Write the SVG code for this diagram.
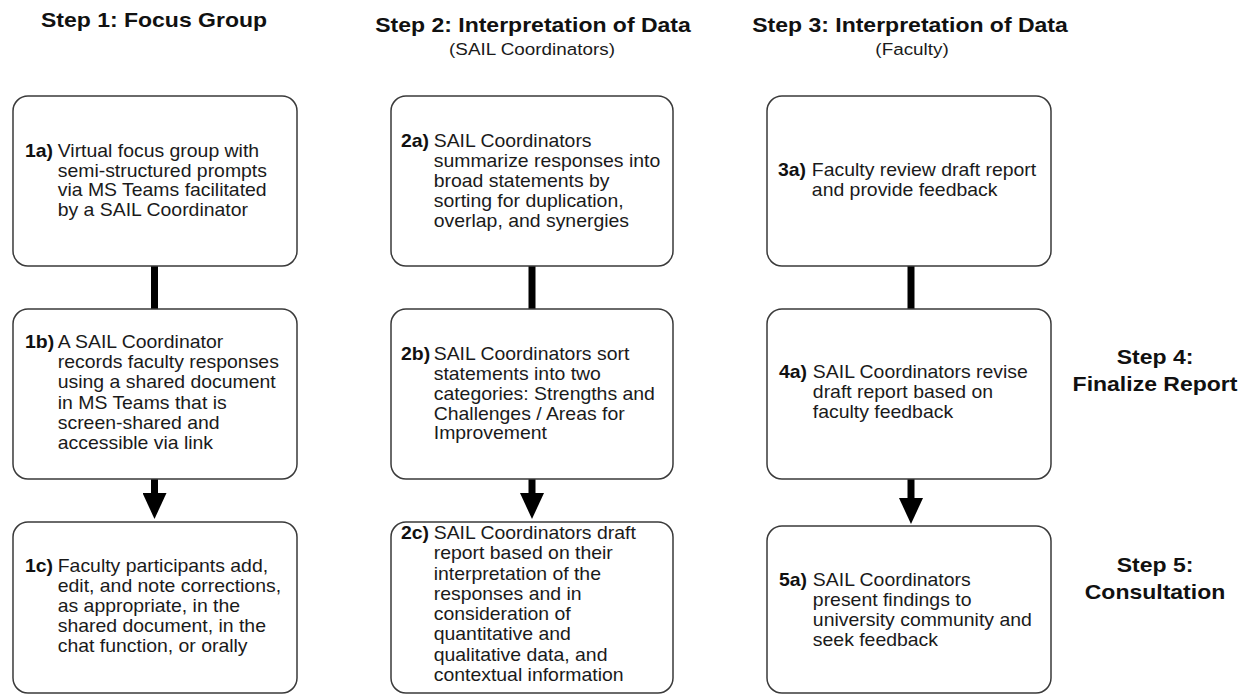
<svg xmlns="http://www.w3.org/2000/svg" width="1246" height="694" viewBox="0 0 1246 694">
<style>
.box{fill:#ffffff;stroke:#3a3a3a;stroke-width:1.5}
.t{font-family:"Liberation Sans",Arial,sans-serif;font-size:17.5px;fill:#1a1a1a}
.lb{font-weight:bold;fill:#111}
.h{font-family:"Liberation Sans",Arial,sans-serif;font-size:20px;font-weight:bold;fill:#111;text-anchor:middle}
.s{font-family:"Liberation Sans",Arial,sans-serif;font-size:17px;fill:#1a1a1a;text-anchor:middle}
.c{stroke:#000;stroke-width:7;fill:none}
</style>
<defs>
<marker id="ah" markerUnits="userSpaceOnUse" markerWidth="26" markerHeight="24" viewBox="0 0 26 24" refX="0" refY="12" orient="auto">
<path d="M0,0 L26,12 L0,24 Z" fill="#000"/>
</marker>
</defs>
<rect width="1246" height="694" fill="#ffffff"/>

<g id="titles">
<text class="h" transform="translate(154,27) scale(1.15,1)">Step 1: Focus Group</text>
<text class="h" transform="translate(533,32) scale(1.15,1)">Step 2: Interpretation of Data</text>
<text class="s" transform="translate(532,55) scale(1.11,1)">(SAIL Coordinators)</text>
<text class="h" transform="translate(910,32) scale(1.15,1)">Step 3: Interpretation of Data</text>
<text class="s" transform="translate(912,55) scale(1.11,1)">(Faculty)</text>
<text class="h" transform="translate(1155,364) scale(1.15,1)"><tspan x="0" y="0">Step 4:</tspan><tspan x="0" y="27">Finalize Report</tspan></text>
<text class="h" transform="translate(1155,572) scale(1.15,1)"><tspan x="0" y="0">Step 5:</tspan><tspan x="0" y="27">Consultation</tspan></text>
</g>

<g id="connectors">
<line class="c" x1="154.5" y1="266" x2="154.5" y2="309"/>
<line class="c" x1="154.5" y1="479" x2="154.5" y2="493" marker-end="url(#ah)"/>
<line class="c" x1="532" y1="266" x2="532" y2="309"/>
<line class="c" x1="532" y1="479" x2="532" y2="493" marker-end="url(#ah)"/>
<line class="c" x1="911" y1="266" x2="911" y2="309"/>
<line class="c" x1="911" y1="479" x2="911" y2="498" marker-end="url(#ah)"/>
</g>

<g id="n1a">
<rect class="box" x="13" y="96" width="284" height="170" rx="15"/>
<text class="t" transform="translate(25,157) scale(1.11,1)"><tspan class="lb" x="0" y="0">1a)</tspan><tspan x="29.5" y="0">Virtual focus group with</tspan><tspan x="29.5" y="19.7">semi-structured prompts</tspan><tspan x="29.5" y="39.4">via MS Teams facilitated</tspan><tspan x="29.5" y="59.1">by a SAIL Coordinator</tspan></text>
</g>
<g id="n1b">
<rect class="box" x="13" y="309" width="284" height="170" rx="15"/>
<text class="t" transform="translate(25,348) scale(1.11,1)"><tspan class="lb" x="0" y="0">1b)</tspan><tspan x="29.5" y="0">A SAIL Coordinator</tspan><tspan x="29.5" y="20.2">records faculty responses</tspan><tspan x="29.5" y="40.4">using a shared document</tspan><tspan x="29.5" y="60.6">in MS Teams that is</tspan><tspan x="29.5" y="80.8">screen-shared and</tspan><tspan x="29.5" y="101">accessible via link</tspan></text>
</g>
<g id="n1c">
<rect class="box" x="13" y="522" width="284" height="171" rx="15"/>
<text class="t" transform="translate(25,572) scale(1.11,1)"><tspan class="lb" x="0" y="0">1c)</tspan><tspan x="29.5" y="0">Faculty participants add,</tspan><tspan x="29.5" y="20">edit, and note corrections,</tspan><tspan x="29.5" y="40">as appropriate, in the</tspan><tspan x="29.5" y="60">shared document, in the</tspan><tspan x="29.5" y="80">chat function, or orally</tspan></text>
</g>

<g id="n2a">
<rect class="box" x="391" y="96" width="282" height="170" rx="15"/>
<text class="t" transform="translate(401,147) scale(1.11,1)"><tspan class="lb" x="0" y="0">2a)</tspan><tspan x="29.5" y="0">SAIL Coordinators</tspan><tspan x="29.5" y="20">summarize responses into</tspan><tspan x="29.5" y="40">broad statements by</tspan><tspan x="29.5" y="60">sorting for duplication,</tspan><tspan x="29.5" y="80">overlap, and synergies</tspan></text>
</g>
<g id="n2b">
<rect class="box" x="391" y="309" width="282" height="170" rx="15"/>
<text class="t" transform="translate(401,360) scale(1.11,1)"><tspan class="lb" x="0" y="0">2b)</tspan><tspan x="29.5" y="0">SAIL Coordinators sort</tspan><tspan x="29.5" y="20">statements into two</tspan><tspan x="29.5" y="40">categories: Strengths and</tspan><tspan x="29.5" y="60">Challenges / Areas for</tspan><tspan x="29.5" y="79.5">Improvement</tspan></text>
</g>
<g id="n2c">
<rect class="box" x="391" y="522" width="282" height="171" rx="15"/>
<text class="t" transform="translate(401,539) scale(1.11,1)"><tspan class="lb" x="0" y="0">2c)</tspan><tspan x="29.5" y="0">SAIL Coordinators draft</tspan><tspan x="29.5" y="20.3">report based on their</tspan><tspan x="29.5" y="40.6">interpretation of the</tspan><tspan x="29.5" y="60.9">responses and in</tspan><tspan x="29.5" y="81.2">consideration of</tspan><tspan x="29.5" y="101.5">quantitative and</tspan><tspan x="29.5" y="121.8">qualitative data, and</tspan><tspan x="29.5" y="142.1">contextual information</tspan></text>
</g>

<g id="n3a">
<rect class="box" x="767" y="96" width="284" height="170" rx="15"/>
<text class="t" transform="translate(778,176) scale(1.11,1)"><tspan class="lb" x="0" y="0">3a)</tspan><tspan x="30.5" y="0">Faculty review draft report</tspan><tspan x="30.5" y="20.5">and provide feedback</tspan></text>
</g>
<g id="n4a">
<rect class="box" x="767" y="309" width="284" height="170" rx="15"/>
<text class="t" transform="translate(779,378) scale(1.11,1)"><tspan class="lb" x="0" y="0">4a)</tspan><tspan x="30.5" y="0">SAIL Coordinators revise</tspan><tspan x="30.5" y="20.3">draft report based on</tspan><tspan x="30.5" y="40">faculty feedback</tspan></text>
</g>
<g id="n5a">
<rect class="box" x="767" y="526" width="284" height="167" rx="15"/>
<text class="t" transform="translate(779,586) scale(1.11,1)"><tspan class="lb" x="0" y="0">5a)</tspan><tspan x="30.5" y="0">SAIL Coordinators</tspan><tspan x="30.5" y="20.3">present findings to</tspan><tspan x="30.5" y="40">university community and</tspan><tspan x="30.5" y="60">seek feedback</tspan></text>
</g>
</svg>
